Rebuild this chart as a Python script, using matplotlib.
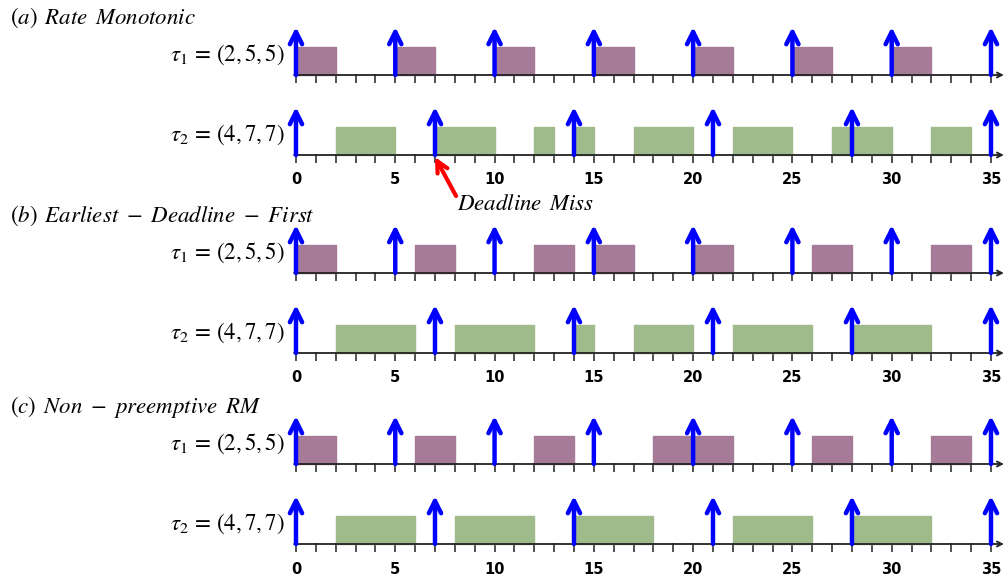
import matplotlib
matplotlib.use("Agg")
import matplotlib.pyplot as plt
import matplotlib.transforms as mtransforms

plt.rcParams['mathtext.fontset'] = 'stix'

# task releases (arrows)
tau1_releases = [0, 5, 10, 15, 20, 25, 30, 35]
tau2_releases = [0, 7, 14, 21, 28, 35]

# executed intervals (start, end) per policy
rm_tau1 = [(0, 2), (5, 7), (10, 12), (15, 17), (20, 22), (25, 27), (30, 32)]
rm_tau2 = [(2, 5), (7, 10), (12, 13), (14, 15), (17, 20), (22, 25), (27, 30), (32, 34)]
edf_tau1 = [(0, 2), (6, 8), (12, 14), (15, 17), (20, 22), (26, 28), (32, 34)]
edf_tau2 = [(2, 6), (8, 12), (14, 15), (17, 20), (22, 26), (28, 32)]
np_tau1 = [(0, 2), (6, 8), (12, 14), (18, 22), (26, 28), (32, 34)]
np_tau2 = [(2, 6), (8, 12), (14, 18), (22, 26), (28, 32)]

tick_labels = [0, 5, 10, 15, 20, 25, 30, 35]
titles = [r'$(a)\ \,Rate\ \,Monotonic$',
          r'$(b)\ \,Earliest\ -\ Deadline\ -\ First$',
          r'$(c)\ \,Non\ -\ preemptive\ \,RM$']
tau1_label = r'$\tau_1\, =\, (2,5,5)$'
tau2_label = r'$\tau_2\, =\, (4,7,7)$'

purple = '#a67b97'
green = '#9fbb8b'

fig = plt.figure(figsize=(10.08, 5.76), dpi=100)
ax = fig.add_axes([0, 0, 1, 1])
ax.set_xlim(-14.906, 35.857)
ax.set_ylim(576, 0)   # y runs top-down in pixel-like units
ax.axis('off')

bar_h = 28
arrow_h = 48
row_gap = 80
section_tops = [75, 273, 464]
sections = [(rm_tau1, rm_tau2), (edf_tau1, edf_tau2), (np_tau1, np_tau2)]
blend = mtransforms.blended_transform_factory(ax.transAxes, ax.transData)


def draw_row(base, jobs, releases, color, label, numbered):
    # time axis with arrow head
    ax.annotate('', xy=(35.65, base), xytext=(-0.1, base),
                arrowprops=dict(arrowstyle='->', lw=1.3, color='#222222',
                                shrinkA=0, shrinkB=0, mutation_scale=9))
    for t in range(0, 36):
        ax.plot([t, t], [base - 1.5, base + 8], color='#333333', lw=1.2,
                solid_capstyle='butt')
    ax.broken_barh([(s, e - s) for s, e in jobs], (base - bar_h, bar_h),
                   color=color, zorder=2)
    for r in releases:
        ax.annotate('', xy=(r, base - arrow_h), xytext=(r, base),
                    arrowprops=dict(arrowstyle='->', lw=3.2, color='blue',
                                    shrinkA=0, shrinkB=0, mutation_scale=22),
                    zorder=3)
    ax.text(-0.55, base - 20, label, ha='right', va='center', fontsize=16.5)
    if numbered:
        for t in tick_labels:
            ax.text(t, base + 25, str(t), ha='center', va='center',
                    fontsize=10.5, fontweight='bold', family='DejaVu Sans')


for top, title, (j1, j2) in zip(section_tops, titles, sections):
    ax.text(0.0099, top - 57, title, transform=blend, ha='left', va='center',
            fontsize=16.5)
    draw_row(top, j1, tau1_releases, purple, tau1_label, False)
    draw_row(top + row_gap, j2, tau2_releases, green, tau2_label, True)

# missed deadline of tau_2 under RM
ax.annotate('', xy=(7, section_tops[0] + row_gap + 2), xytext=(8.06, 196),
            arrowprops=dict(arrowstyle='->', lw=3, color='red',
                            shrinkA=0, shrinkB=0, mutation_scale=20), zorder=4)
ax.text(8.1, 203, r'$Deadline\ \,Miss$', ha='left', va='center', fontsize=16.5)

fig.savefig('out.png', dpi=100)
